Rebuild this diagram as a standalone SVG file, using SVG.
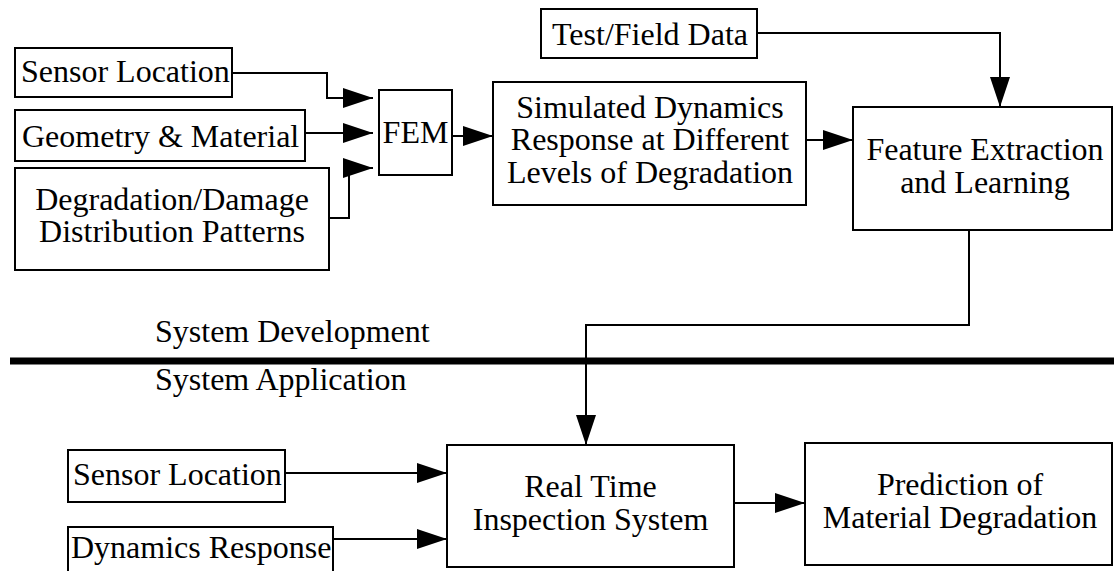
<svg xmlns="http://www.w3.org/2000/svg" width="1114" height="571" viewBox="0 0 1114 571">
<style>
.box{fill:#fff;stroke:#000;stroke-width:2}
.t{font-family:"Liberation Serif","Times New Roman",serif;font-size:32px;fill:#000}
.c{text-anchor:middle}
.ln{fill:none;stroke:#000;stroke-width:2}
</style>
<defs>
<marker id="ah" markerUnits="userSpaceOnUse" markerWidth="30" markerHeight="20" refX="30" refY="10" orient="auto">
<path d="M0,0 L30,10 L0,20 Z" fill="#000"/>
</marker>
</defs>
<rect x="0" y="0" width="1114" height="571" fill="#fff"/>

<g id="connectors">
<polyline class="ln" points="232,73 327,73 327,98 373,98" marker-end="url(#ah)"/>
<line class="ln" x1="305" y1="133" x2="373" y2="133" marker-end="url(#ah)"/>
<polyline class="ln" points="325,218 349,218 349,168 373,168" marker-end="url(#ah)"/>
<line class="ln" x1="452" y1="136" x2="493" y2="136" marker-end="url(#ah)"/>
<line class="ln" x1="806" y1="140" x2="853" y2="140" marker-end="url(#ah)"/>
<polyline class="ln" points="757,33 1000,33 1000,107" marker-end="url(#ah)"/>
<polyline class="ln" points="969,230 969,325 586,325 586,445" marker-end="url(#ah)"/>
<line class="ln" x1="285" y1="473" x2="447" y2="473" marker-end="url(#ah)"/>
<line class="ln" x1="330" y1="539" x2="447" y2="539" marker-end="url(#ah)"/>
<line class="ln" x1="734" y1="503" x2="805" y2="503" marker-end="url(#ah)"/>
</g>

<g id="divider">
<line x1="10" y1="361" x2="1114" y2="361" stroke="#000" stroke-width="7"/>
<text class="t" x="155" y="342">System Development</text>
<text class="t" x="155" y="390">System Application</text>
</g>

<g id="sensor-location-top">
<rect class="box" x="15" y="48" width="217" height="49"/>
<text class="t" x="21" y="82">Sensor Location</text>
</g>
<g id="geometry-material">
<rect class="box" x="15" y="110" width="290" height="51"/>
<text class="t" x="22" y="147">Geometry &amp; Material</text>
</g>
<g id="degradation-patterns">
<rect class="box" x="15" y="168" width="314" height="102"/>
<text class="t c" x="172" y="210">Degradation/Damage</text>
<text class="t c" x="172" y="242">Distribution Patterns</text>
</g>
<g id="fem">
<rect class="box" x="379" y="90" width="73" height="85"/>
<text class="t c" x="415.5" y="143">FEM</text>
</g>
<g id="simulated-response">
<rect class="box" x="493" y="82" width="313" height="123"/>
<text class="t c" x="650" y="118">Simulated Dynamics</text>
<text class="t c" x="650" y="150">Response at Different</text>
<text class="t c" x="650" y="183">Levels of Degradation</text>
</g>
<g id="test-field-data">
<rect class="box" x="541" y="9" width="216" height="49"/>
<text class="t c" x="650" y="45">Test/Field Data</text>
</g>
<g id="feature-extraction">
<rect class="box" x="853" y="107" width="259" height="123"/>
<text class="t c" x="985" y="160">Feature Extraction</text>
<text class="t c" x="985" y="193">and Learning</text>
</g>
<g id="sensor-location-bottom">
<rect class="box" x="68" y="450" width="217" height="52"/>
<text class="t" x="73" y="485">Sensor Location</text>
</g>
<g id="dynamics-response">
<rect class="box" x="68" y="527" width="265" height="60"/>
<text class="t" x="71" y="558">Dynamics Response</text>
</g>
<g id="real-time-inspection">
<rect class="box" x="447" y="445" width="287" height="122"/>
<text class="t c" x="590.5" y="497">Real Time</text>
<text class="t c" x="590.5" y="530">Inspection System</text>
</g>
<g id="prediction">
<rect class="box" x="805" y="443" width="307" height="122"/>
<text class="t c" x="960" y="495">Prediction of</text>
<text class="t c" x="960" y="528">Material Degradation</text>
</g>
</svg>
